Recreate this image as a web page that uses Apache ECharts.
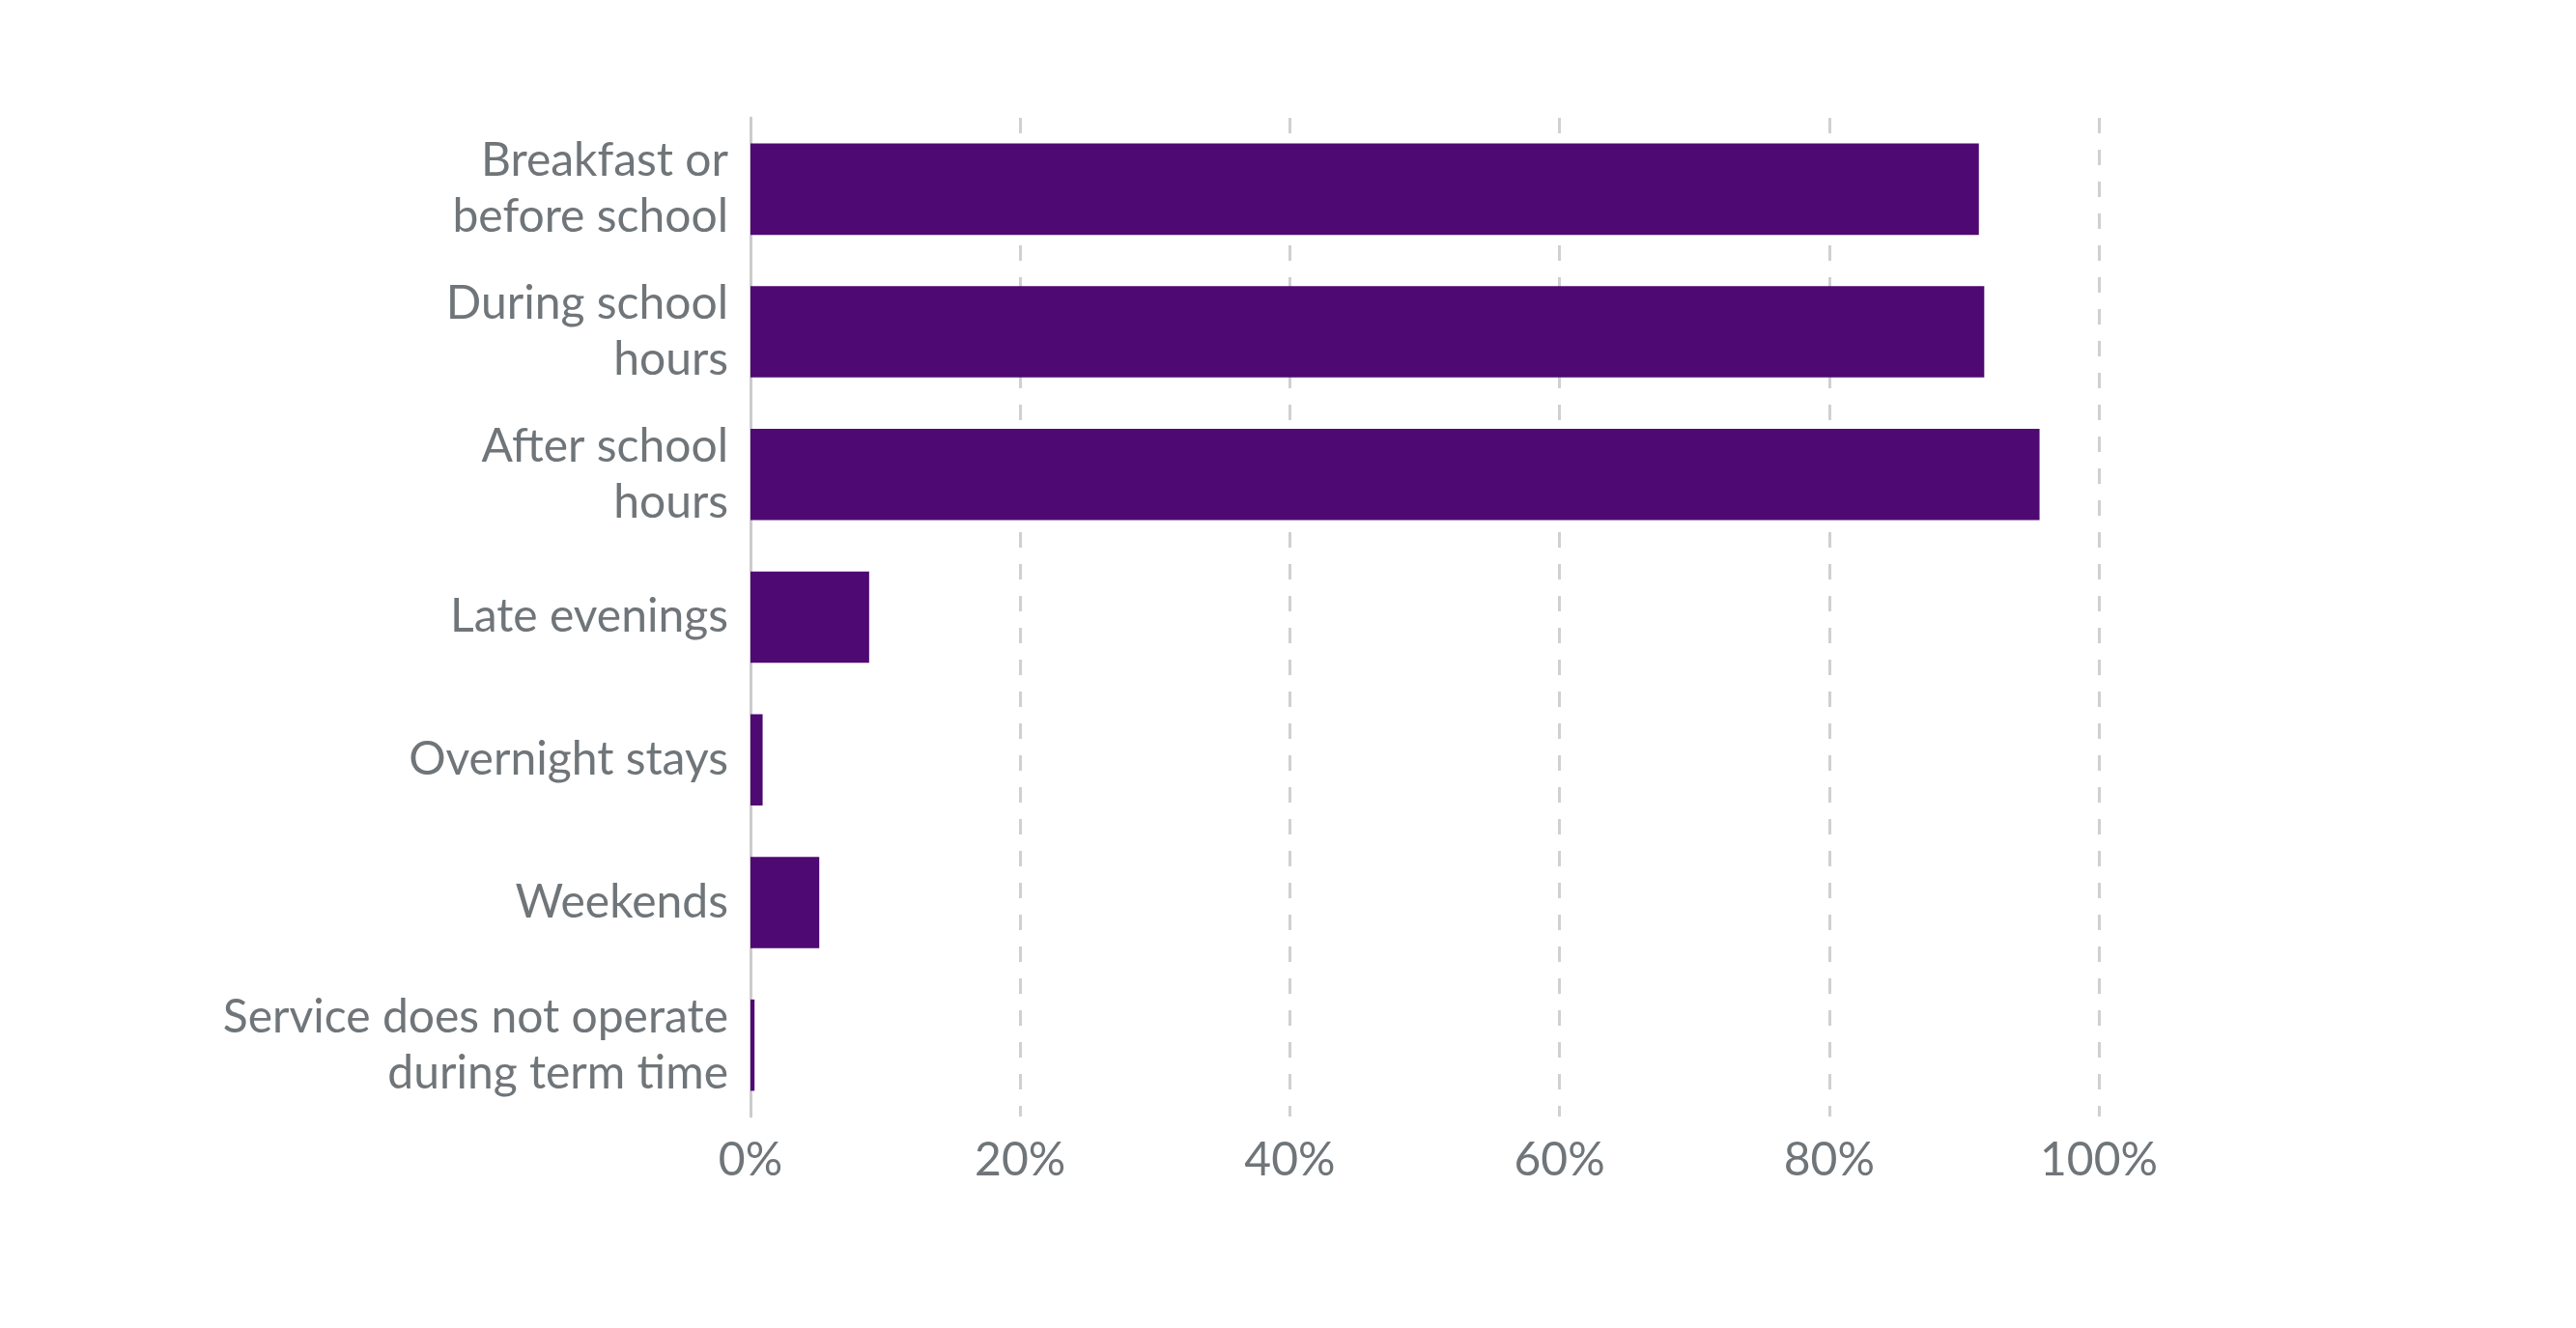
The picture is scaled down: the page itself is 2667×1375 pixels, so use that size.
<!DOCTYPE html>
<html>
<head>
<meta charset="utf-8">
<script src="https://cdn.jsdelivr.net/npm/echarts@6/dist/echarts.min.js"></script>
<style>
html,body{margin:0;padding:0;background:#fff;}
#chart{width:2667px;height:1375px;}
</style>
</head>
<body>
<div id="chart"></div>
<script>
const categories = [
  "Breakfast or\nbefore school",
  "During school\nhours",
  "After school\nhours",
  "Late evenings",
  "Overnight stays",
  "Weekends",
  "Service does not operate\nduring term time"
];
const values = [91.1, 91.5, 95.6, 8.8, 0.9, 5.1, 0.3];
const xTicks = [0, 20, 40, 60, 80, 100];

const textColor = '#6f7579';
const font = 'Lato, "Noto Sans", sans-serif';

const chart = echarts.init(document.getElementById('chart'), null, {renderer: 'canvas'});
chart.setOption({
  animation: false,
  backgroundColor: '#ffffff',
  grid: {left: 777, right: 494, top: 122, bottom: 219, containLabel: false},
  xAxis: {
    type: 'value',
    min: xTicks[0],
    max: xTicks[xTicks.length - 1],
    interval: 20,
    axisLine: {show: false},
    axisTick: {show: false},
    axisLabel: {
      formatter: v => v + '%',
      color: textColor,
      fontFamily: font,
      fontSize: 48,
      margin: 22
    },
    splitLine: {
      show: true,
      lineStyle: {color: '#d0d0d0', width: 3, type: [16, 17]}
    }
  },
  yAxis: {
    type: 'category',
    inverse: true,
    data: categories,
    axisLine: {show: true, lineStyle: {color: '#cccccc', width: 3}},
    axisTick: {show: false},
    axisLabel: {
      color: textColor,
      fontFamily: font,
      fontSize: 48,
      lineHeight: 58,
      margin: 23,
      align: 'right'
    }
  },
  series: [{
    type: 'bar',
    data: values,
    barCategoryGap: '36%',
    itemStyle: {color: '#4f0972'}
  }]
});
</script>
</body>
</html>
